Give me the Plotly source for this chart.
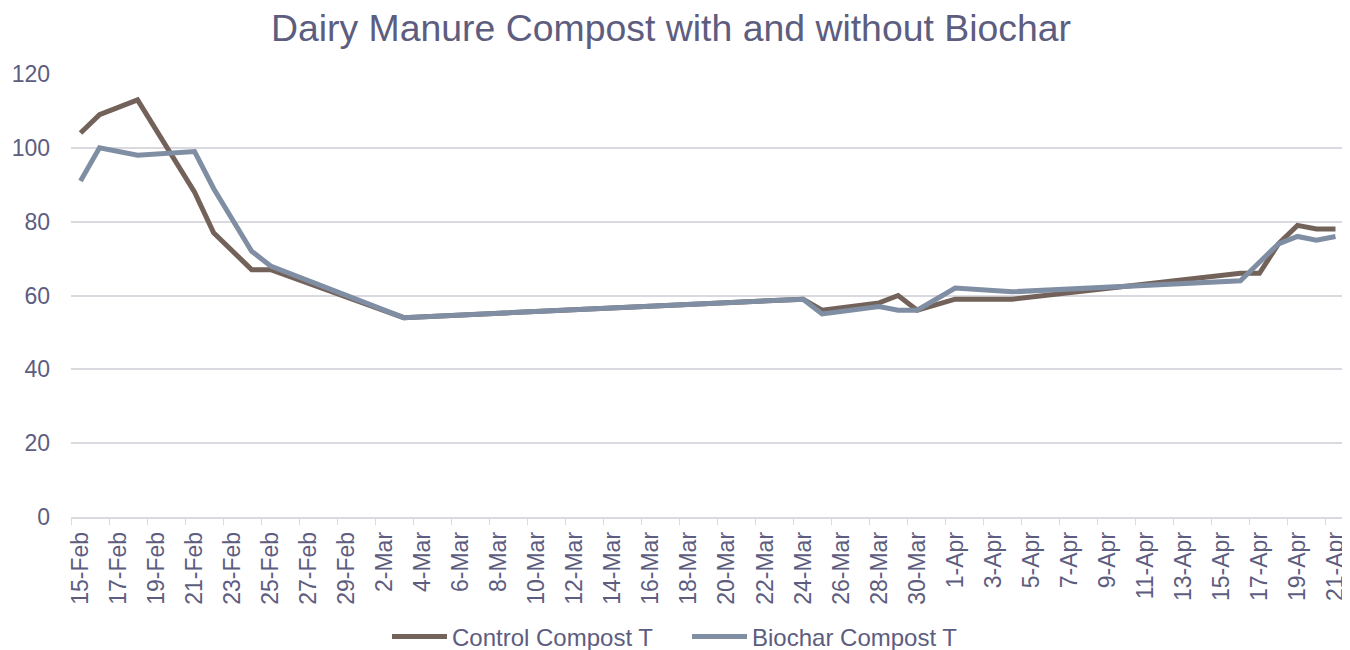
import plotly.graph_objects as go

# --- data (2016, leap year: 29-Feb exists)
fechas = ["2016-02-15", "2016-02-16", "2016-02-18", "2016-02-21", "2016-02-22",
          "2016-02-24", "2016-02-25", "2016-03-03", "2016-03-24", "2016-03-25",
          "2016-03-28", "2016-03-29", "2016-03-30", "2016-04-01", "2016-04-04",
          "2016-04-16", "2016-04-17", "2016-04-18", "2016-04-19", "2016-04-20",
          "2016-04-21"]
control_t = [104, 109, 113, 88, 77, 67, 67, 54, 59, 56, 58, 60, 56, 59, 59,
             66, 66, 74, 79, 78, 78]
biochar_t = [91, 100, 98, 99, 89, 72, 68, 54, 59, 55, 57, 56, 56, 62, 61,
             64, 69, 74, 76, 75, 76]

texto = "#5d5d80"
rejilla = "#d9d9df"
fuente = "Liberation Sans, Arial, sans-serif"

# la página deja 8px de margen en el body: la figura ocupa 1342x642
W, H = 1342, 642

fig = go.Figure()
fig.add_trace(go.Scatter(x=fechas, y=control_t, mode="lines", name="Control Compost T",
                         line=dict(color="#73625a", width=5)))
fig.add_trace(go.Scatter(x=fechas, y=biochar_t, mode="lines", name="Biochar Compost T",
                         line=dict(color="#7f8ea3", width=5)))

fig.update_layout(
    width=W, height=H,
    margin=dict(l=63, r=5, t=66, b=133),
    plot_bgcolor="white", paper_bgcolor="white",
    font=dict(family=fuente, color=texto, size=23),
    title=dict(text="Dairy Manure Compost with and without Biochar",
               x=663 / W, xref="container", xanchor="center",
               y=1 - 20 / H, yref="container", yanchor="middle",
               font=dict(size=37.4, color=texto)),
    legend=dict(orientation="h", x=379 / W, xref="container", xanchor="left",
                y=1 - 629 / H, yref="container", yanchor="middle",
                itemwidth=55, entrywidth=230, entrywidthmode="pixels",
                font=dict(size=24, color=texto)),
    showlegend=True,
)

fig.update_xaxes(
    type="date",
    range=["2016-02-14 12:00", "2016-04-21 12:00"],
    tick0="2016-02-15", dtick=2 * 86400000,
    tickformat="%-d-%b", tickangle=-90,
    ticks="", ticklabelstandoff=4, automargin=False,
    showgrid=False, zeroline=False,
    showline=True, linecolor=rejilla, linewidth=1.5,
    minor=dict(ticks="outside", tick0="2016-02-14 12:00", dtick=2 * 86400000,
               ticklen=6, tickcolor=rejilla, showgrid=False),
)
fig.update_yaxes(
    range=[0, 120], dtick=20, automargin=False,
    showgrid=True, gridcolor=rejilla, gridwidth=1.5,
    zeroline=False, ticks="", ticklabelstandoff=20,
)

fig.write_html("out.html")
